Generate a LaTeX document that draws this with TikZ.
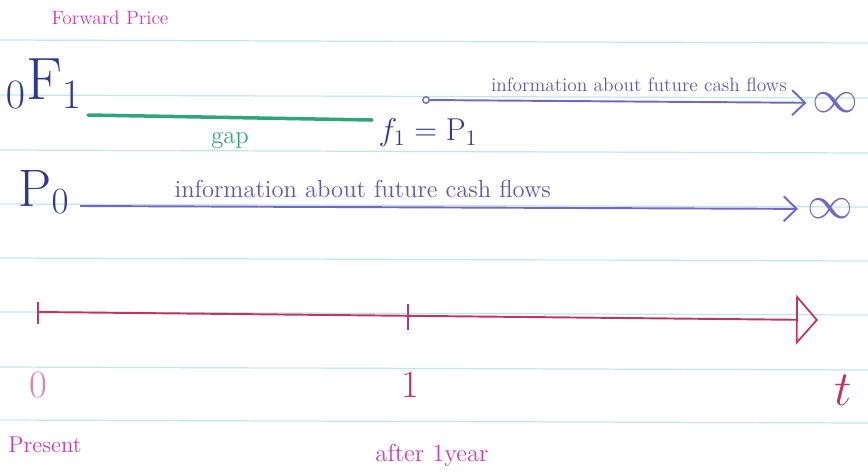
\RequirePackage{fix-cm}
\documentclass[tikz,border=0pt]{standalone}
\usepackage{amsmath,amssymb}
\usepackage{tikz}
\usetikzlibrary{arrows.meta}

\begin{document}
\begin{tikzpicture}[x=.02cm,y=-.02cm,
 rule/.style={draw=rulecyan,line width=.7pt},
 flow/.style={-{Straight Barb[length=2.6mm,width=5mm]},line width=1.1pt,draw=infopurple},
 note/.style={font=\fontsize{11}{13}\selectfont,text=notemagenta},
 info/.style={font=\fontsize{11}{13}\selectfont,text=infopurple!85!black,inner sep=1pt},
 sym/.style={text=inkblue,inner sep=1pt},
 axis/.style={line width=1.1pt,draw=timered,-{Triangle[open,length=4.4mm,width=10mm,line width=1pt]}},
 tick/.style={line width=1.1pt,draw=timered},
 tlabel/.style={font=\fontsize{22}{24}\selectfont,text=timered}]
\definecolor{rulecyan}{HTML}{BFE6EE}
\definecolor{infopurple}{HTML}{7466C4}
\definecolor{inkblue}{HTML}{2E3A8C}
\definecolor{gapgreen}{HTML}{2FA57A}
\definecolor{timered}{HTML}{C23462}
\definecolor{notemagenta}{HTML}{CC3CB4}
\useasboundingbox (0,0) rectangle (868,471);
% ruled notebook lines
\foreach \y in {40,95,150,204,258,312,367,420}
 \draw[rule] (0,\y) -- (868,\y+3);
% forward price row
\node[note] (fwd) at (110,18) {Forward Price};
\node[sym,font=\fontsize{34}{36}\selectfont] (f01) at (44,84) {${}_0\mathrm{F}_1$};
\coordinate (gapl) at (88,115);
\coordinate (gapr) at (372,120);
\draw[line width=2pt,draw=gapgreen,line cap=round] (gapl) -- node[below=4pt,font=\fontsize{14}{16}\selectfont,text=gapgreen] (gaplbl) {gap} (gapr);
\node[circle,draw=infopurple,line width=.8pt,minimum size=.13cm,inner sep=0pt] (start1) at (426,100) {};
\node[sym,font=\fontsize{26}{28}\selectfont,text=infopurple] (inf1) at (835,103) {$\infty$};
\draw[flow,shorten >=2pt] (start1) -- node[info,above=4pt,pos=.55] (info1) {information about future cash flows} (inf1);
\node[sym,font=\fontsize{18}{20}\selectfont] (f1p1) at (428,133) {$f_1 = \mathrm{P}_1$};
% spot price row
\node[sym,font=\fontsize{30}{32}\selectfont] (p0) at (44,192) {$\mathrm{P}_0$};
\coordinate (p0tail) at (80,206);
\node[sym,font=\fontsize{26}{28}\selectfont,text=infopurple] (inf2) at (830,209) {$\infty$};
\draw[flow,shorten >=4pt] (p0tail) -- node[info,above=4pt,pos=.39,font=\fontsize{14}{16}\selectfont] (info2) {information about future cash flows} (inf2);
% time line
\coordinate (t0) at (38,312);
\coordinate (t1) at (408,316);
\coordinate (tend) at (818,320);
\draw[axis] (t0) -- (tend);
\draw[tick] (38,302) -- (38,324);
\draw[tick] (408,304) -- (408,330);
\node[tlabel,text=timered!60] (zero) at (38,385) {0};
\node[tlabel] (one) at (410,385) {1};
\node[tlabel,font=\fontsize{28}{30}\selectfont] (tlab) at (843,390) {$t$};
\node[note,font=\fontsize{13}{15}\selectfont] (present) at (45,445) {Present};
\node[note,font=\fontsize{14}{16}\selectfont] (after) at (432,455) {after 1year};
\end{tikzpicture}
\end{document}
